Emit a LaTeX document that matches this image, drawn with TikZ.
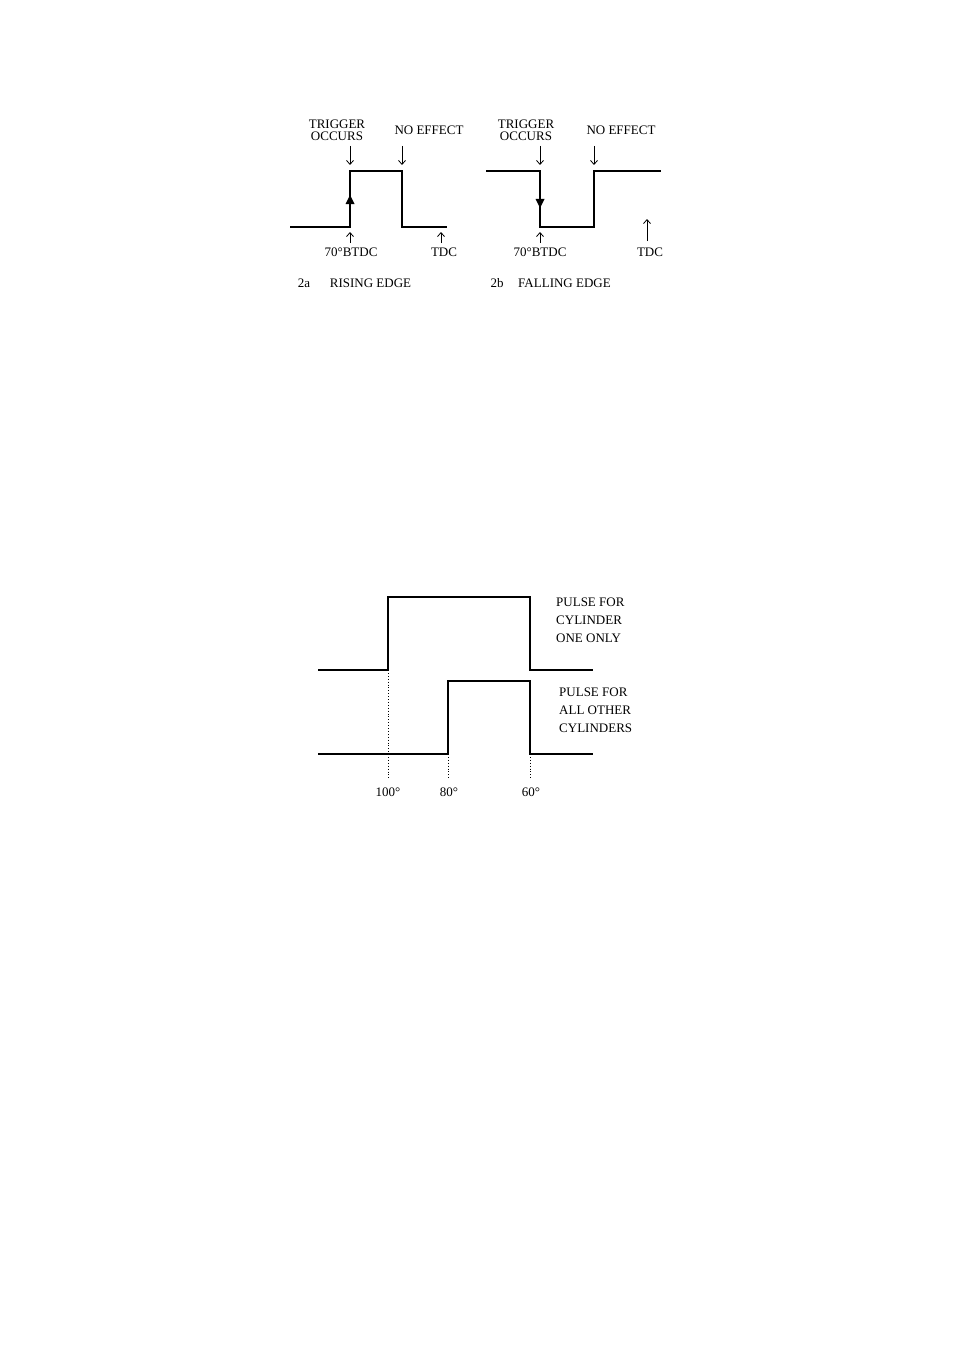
\documentclass[tikz,border=0pt]{standalone}
\usepackage{fontspec}
\setmainfont{Liberation Serif}
\usetikzlibrary{arrows.meta}
\tikzstyle{wave}=[draw,line width=1.6pt]
\tikzstyle{pointer}=[draw,line width=0.8pt,-{Straight Barb[length=4pt,width=7pt]}]
\tikzstyle{guide}=[draw,dotted,line width=0.9pt]
\tikzstyle{tag}=[inner sep=0pt,font=\fontsize{13}{13}\selectfont,align=center]
\tikzstyle{note}=[inner sep=0pt,font=\fontsize{13}{18}\selectfont,align=left,anchor=west]

\begin{document}
\begin{tikzpicture}[x=1pt,y=-1pt]
\useasboundingbox (0,0) rectangle (954,1351);
% 2a rising edge
\draw[wave] (290,227) coordinate (a0) -- (350,227) coordinate (a1) -- (350,171) coordinate (a2)
    -- (402,171) coordinate (a3) -- (402,227) coordinate (a4) -- (447,227) coordinate (a5);
\fill (350,195) -- (354.5,204) -- (345.5,204) -- cycle;
\path (a2) ++(-13,-40.5) node[tag] (trigA) {TRIGGER\\[-1pt]OCCURS}
      (a3) ++(27,-41) node[tag] (noeffA) {NO EFFECT}
      (a1) ++(1,25) node[tag] (btdcA) {70°BTDC}
      (a5) ++(-3,25) node[tag] (tdcA) {TDC}
      (304,283) node[tag] (numA) {2a}
      (370.5,283) node[tag] (nameA) {RISING EDGE};
\draw[pointer] (a2) ++(0,-25) -- ++(0,19);
\draw[pointer] (a3) ++(0,-25) -- ++(0,19);
\draw[pointer] (a1) ++(0,16) -- ++(0,-11);
\draw[pointer] (a5) ++(-6,16) -- ++(0,-11);
% 2b falling edge
\draw[wave] (486,171) coordinate (b0) -- (540,171) coordinate (b1) -- (540,227) coordinate (b2)
    -- (594,227) coordinate (b3) -- (594,171) coordinate (b4) -- (661,171) coordinate (b5);
\fill (540,208) -- (544.5,199) -- (535.5,199) -- cycle;
\path (b1) ++(-14,-40.5) node[tag] (trigB) {TRIGGER\\[-1pt]OCCURS}
      (b4) ++(27,-41) node[tag] (noeffB) {NO EFFECT}
      (b2) ++(0,25) node[tag] (btdcB) {70°BTDC}
      (b5) ++(-11,81) node[tag] (tdcB) {TDC}
      (497,283) node[tag] (numB) {2b}
      (564.5,283) node[tag] (nameB) {FALLING EDGE};
\draw[pointer] (b1) ++(0,-25) -- ++(0,19);
\draw[pointer] (b4) ++(0,-25) -- ++(0,19);
\draw[pointer] (b2) ++(0,16) -- ++(0,-11);
\draw[pointer] (b5) ++(-14,70) -- ++(0,-22);
% cylinder pulses
\draw[wave] (318,670) coordinate (c0) -- (388,670) coordinate (c1) -- (388,597) coordinate (c2)
    -- (530,597) coordinate (c3) -- (530,670) coordinate (c4) -- (593,670) coordinate (c5);
\draw[wave] (318,754) coordinate (d0) -- (448,754) coordinate (d1) -- (448,681) coordinate (d2)
    -- (530,681) coordinate (d3) -- (530,754) coordinate (d4) -- (593,754) coordinate (d5);
\draw[guide] (c1) -- ++(0,110);
\draw[guide] (d1) -- ++(0,26);
\draw[guide] (d4) -- ++(0,26);
\path (c1) ++(0,122) node[tag] (deg100) {100°}
      (d1) ++(1,38) node[tag] (deg80) {80°}
      (d4) ++(1,38) node[tag] (deg60) {60°}
      (556,620) node[note] (cylone) {PULSE FOR\\CYLINDER\\ONE ONLY}
      (559,710) node[note] (cylrest) {PULSE FOR\\ALL OTHER\\CYLINDERS};
\end{tikzpicture}
\end{document}
